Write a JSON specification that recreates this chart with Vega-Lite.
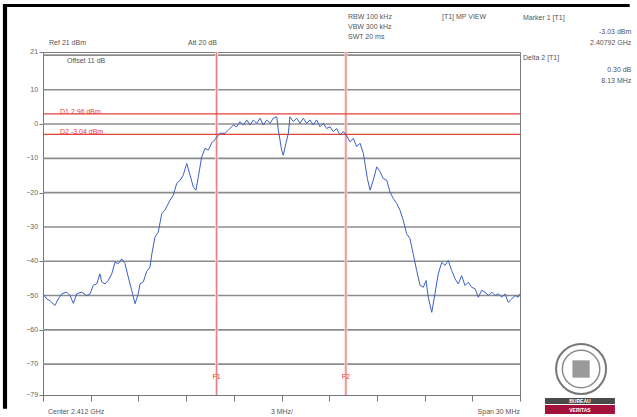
{
  "$schema": "https://vega.github.io/schema/vega-lite/v6.json",
  "width": 477,
  "height": 343,
  "autosize": {"type": "none"},
  "padding": {"left": 43, "top": 52, "right": 117, "bottom": 22},
  "background": "white",
  "config": {"view": {"stroke": "#7a7a7a", "strokeWidth": 1}, "font": "Liberation Sans"},
  "datasets": {
    "trace": [
      {"f": 2397.00, "dbm": -49.5}, {"f": 2397.23, "dbm": -51}, {"f": 2397.44, "dbm": -51.5}, {"f": 2397.75, "dbm": -52.9},
      {"f": 2397.96, "dbm": -51}, {"f": 2398.18, "dbm": -49.5}, {"f": 2398.49, "dbm": -49}, {"f": 2398.70, "dbm": -50},
      {"f": 2398.91, "dbm": -52.3}, {"f": 2399.12, "dbm": -49.5}, {"f": 2399.43, "dbm": -49}, {"f": 2399.75, "dbm": -50},
      {"f": 2399.96, "dbm": -49.5}, {"f": 2400.16, "dbm": -47}, {"f": 2400.38, "dbm": -46.6}, {"f": 2400.58, "dbm": -43.7},
      {"f": 2400.69, "dbm": -46}, {"f": 2400.90, "dbm": -46.6}, {"f": 2401.11, "dbm": -45.6}, {"f": 2401.32, "dbm": -43.7},
      {"f": 2401.53, "dbm": -40.3}, {"f": 2401.74, "dbm": -40.7}, {"f": 2401.95, "dbm": -39.3}, {"f": 2402.16, "dbm": -40.7},
      {"f": 2402.36, "dbm": -44.6}, {"f": 2402.58, "dbm": -48.5}, {"f": 2402.79, "dbm": -52.4}, {"f": 2402.99, "dbm": -49.5},
      {"f": 2403.10, "dbm": -46.6}, {"f": 2403.31, "dbm": -46}, {"f": 2403.52, "dbm": -43}, {"f": 2403.73, "dbm": -41.7},
      {"f": 2403.84, "dbm": -38}, {"f": 2404.04, "dbm": -33}, {"f": 2404.25, "dbm": -31.5}, {"f": 2404.47, "dbm": -26.1},
      {"f": 2404.67, "dbm": -25.1}, {"f": 2404.99, "dbm": -22.2}, {"f": 2405.19, "dbm": -20.8}, {"f": 2405.41, "dbm": -17.3},
      {"f": 2405.62, "dbm": -16.4}, {"f": 2405.82, "dbm": -14.9}, {"f": 2406.04, "dbm": -11.5}, {"f": 2406.25, "dbm": -14.9},
      {"f": 2406.45, "dbm": -18.3}, {"f": 2406.62, "dbm": -19.3}, {"f": 2406.77, "dbm": -15.4}, {"f": 2406.98, "dbm": -9.6},
      {"f": 2407.19, "dbm": -7.1}, {"f": 2407.40, "dbm": -7.6}, {"f": 2407.61, "dbm": -5.5}, {"f": 2407.82, "dbm": -4.5},
      {"f": 2408.13, "dbm": -2.7}, {"f": 2408.45, "dbm": -2.7}, {"f": 2408.65, "dbm": -1.8}, {"f": 2408.97, "dbm": -0.3},
      {"f": 2409.18, "dbm": -0.8}, {"f": 2409.39, "dbm": 0.7}, {"f": 2409.60, "dbm": -0.3}, {"f": 2409.81, "dbm": 1.2},
      {"f": 2410.02, "dbm": -0.3}, {"f": 2410.23, "dbm": 1.2}, {"f": 2410.44, "dbm": 0.2}, {"f": 2410.65, "dbm": 1.7},
      {"f": 2410.86, "dbm": -0.3}, {"f": 2411.07, "dbm": 1.2}, {"f": 2411.28, "dbm": 0.2}, {"f": 2411.48, "dbm": 1.7},
      {"f": 2411.70, "dbm": 2.1}, {"f": 2411.80, "dbm": -1.8}, {"f": 2412.01, "dbm": -7.6}, {"f": 2412.11, "dbm": -9.1},
      {"f": 2412.28, "dbm": -5.6}, {"f": 2412.43, "dbm": -2.7}, {"f": 2412.53, "dbm": 2.1}, {"f": 2412.74, "dbm": 0.7},
      {"f": 2412.96, "dbm": 1.7}, {"f": 2413.16, "dbm": 0.2}, {"f": 2413.37, "dbm": 1.7}, {"f": 2413.58, "dbm": 0.2},
      {"f": 2413.79, "dbm": 1.2}, {"f": 2414.00, "dbm": -0.3}, {"f": 2414.21, "dbm": 1.2}, {"f": 2414.42, "dbm": -0.8},
      {"f": 2414.63, "dbm": 0.2}, {"f": 2414.84, "dbm": -1.3}, {"f": 2415.05, "dbm": -0.8}, {"f": 2415.26, "dbm": -2.2},
      {"f": 2415.47, "dbm": -1.3}, {"f": 2415.68, "dbm": -3.2}, {"f": 2415.89, "dbm": -2.2}, {"f": 2416.10, "dbm": -3.5},
      {"f": 2416.31, "dbm": -5.2}, {"f": 2416.52, "dbm": -4.2}, {"f": 2416.73, "dbm": -6.6}, {"f": 2416.94, "dbm": -5.6},
      {"f": 2417.15, "dbm": -8.6}, {"f": 2417.25, "dbm": -11.5}, {"f": 2417.40, "dbm": -15.9}, {"f": 2417.57, "dbm": -19.3},
      {"f": 2417.77, "dbm": -16.4}, {"f": 2417.99, "dbm": -12.5}, {"f": 2418.20, "dbm": -13.9}, {"f": 2418.40, "dbm": -15.9},
      {"f": 2418.62, "dbm": -16.4}, {"f": 2418.82, "dbm": -19.8}, {"f": 2419.03, "dbm": -21.7}, {"f": 2419.25, "dbm": -23.2},
      {"f": 2419.45, "dbm": -25.1}, {"f": 2419.66, "dbm": -28.1}, {"f": 2419.87, "dbm": -32}, {"f": 2420.08, "dbm": -33.4},
      {"f": 2420.29, "dbm": -38}, {"f": 2420.50, "dbm": -42.7}, {"f": 2420.71, "dbm": -47}, {"f": 2420.92, "dbm": -47.6},
      {"f": 2421.09, "dbm": -45.6}, {"f": 2421.23, "dbm": -50.5}, {"f": 2421.45, "dbm": -54.9}, {"f": 2421.65, "dbm": -49.5},
      {"f": 2421.86, "dbm": -43.7}, {"f": 2422.08, "dbm": -40.3}, {"f": 2422.28, "dbm": -41.2}, {"f": 2422.49, "dbm": -39.8},
      {"f": 2422.70, "dbm": -42.7}, {"f": 2422.91, "dbm": -45.1}, {"f": 2423.12, "dbm": -46.6}, {"f": 2423.33, "dbm": -44.2},
      {"f": 2423.54, "dbm": -47.1}, {"f": 2423.75, "dbm": -46.1}, {"f": 2423.96, "dbm": -47.6}, {"f": 2424.17, "dbm": -48},
      {"f": 2424.38, "dbm": -50.5}, {"f": 2424.59, "dbm": -48.5}, {"f": 2424.80, "dbm": -49}, {"f": 2425.01, "dbm": -50},
      {"f": 2425.22, "dbm": -49}, {"f": 2425.43, "dbm": -50}, {"f": 2425.64, "dbm": -49.5}, {"f": 2425.85, "dbm": -50.5},
      {"f": 2426.06, "dbm": -49.5}, {"f": 2426.26, "dbm": -52}, {"f": 2426.48, "dbm": -51}, {"f": 2426.69, "dbm": -50},
      {"f": 2426.89, "dbm": -50.5}, {"f": 2427.00, "dbm": -49.5}
    ],
    "dlines": [
      {"name": "D1", "level": 2.96, "label": "D1 2.96 dBm", "lx": 2398.07},
      {"name": "D2", "level": -3.04, "label": "D2 -3.04 dBm", "lx": 2398.07}
    ],
    "flines": [
      {"name": "F1", "freq": 2407.92, "ly": -73.75},
      {"name": "F2", "freq": 2416.05, "ly": -73.75}
    ],
    "grid": [
      {"level": 20.1}, {"level": 10}, {"level": 0}, {"level": -10}, {"level": -20}, {"level": -30},
      {"level": -40}, {"level": -50}, {"level": -60}, {"level": -70}
    ],
    "ylabels": [
      {"level": 21, "lx": 2396.69}, {"level": 10, "lx": 2396.69}, {"level": 0, "lx": 2396.69}, {"level": -10, "lx": 2396.69},
      {"level": -20, "lx": 2396.69}, {"level": -30, "lx": 2396.69}, {"level": -40, "lx": 2396.69}, {"level": -50, "lx": 2396.69},
      {"level": -60, "lx": 2396.69}, {"level": -70, "lx": 2396.69}, {"level": -79, "lx": 2396.69}
    ],
    "notes": [
      {"x": 2397.38, "y": 23.62, "text": "Ref 21 dBm", "anchor": "left"},
      {"x": 2406.12, "y": 23.62, "text": "Att 20 dB", "anchor": "left"},
      {"x": 2398.51, "y": 18.38, "text": "Offset 11 dB", "anchor": "left"},
      {"x": 2416.18, "y": 31.2, "text": "RBW 100 kHz", "anchor": "left"},
      {"x": 2416.18, "y": 28.29, "text": "VBW 300 kHz", "anchor": "left"},
      {"x": 2416.18, "y": 25.37, "text": "SWT 20 ms", "anchor": "left"},
      {"x": 2422.09, "y": 31.2, "text": "[T1] MP VIEW", "anchor": "left"},
      {"x": 2427.19, "y": 30.91, "text": "Marker 1 [T1]", "anchor": "left"},
      {"x": 2434.0, "y": 26.83, "text": "-3.03 dBm", "anchor": "right"},
      {"x": 2434.0, "y": 23.62, "text": "2.40792 GHz", "anchor": "right"},
      {"x": 2427.19, "y": 19.25, "text": "Delta 2 [T1]", "anchor": "left"},
      {"x": 2434.0, "y": 15.75, "text": "0.30 dB", "anchor": "right"},
      {"x": 2434.0, "y": 12.54, "text": "8.13 MHz", "anchor": "right"},
      {"x": 2397.31, "y": -83.96, "text": "Center 2.412 GHz", "anchor": "left"},
      {"x": 2412.03, "y": -83.96, "text": "3 MHz/", "anchor": "center"},
      {"x": 2427.0, "y": -83.96, "text": "Span 30 MHz", "anchor": "right"}
    ],
    "frame": [
      {"x": 2394.48, "x2": 2433.9, "y": 35.0, "y2": 34.12},
      {"x": 2394.48, "x2": 2394.74, "y": 35.0, "y2": -83}
    ],
    "logo": [{"x": 2430.84, "y": -71.42}],
    "logobars": [
      {"x": 2428.57, "x2": 2432.97, "y": -79.87, "y2": -81.62, "part": "BUREAU", "tx": 2430.77, "ty": -80.75},
      {"x": 2428.57, "x2": 2432.97, "y": -81.92, "y2": -84.54, "part": "VERITAS", "tx": 2430.77, "ty": -83.23}
    ]
  },
  "layer": [
    {
      "data": {"name": "grid"},
      "mark": {"type": "rule", "color": "#8c8c8c", "strokeWidth": 1.6},
      "encoding": {
        "y": {"field": "level", "type": "quantitative", "scale": {"domain": [-79, 21], "nice": false, "zero": false},
          "axis": {"values": [21, 10, 0, -10, -20, -30, -40, -50, -60, -70, -79], "title": null, "grid": false, "labels": false,
            "domainColor": "#777777", "tickColor": "#777777", "tickSize": 4}}
      }
    },
    {
      "data": {"name": "flines"},
      "mark": {"type": "rule", "color": "#f8d4d4", "strokeWidth": 3},
      "encoding": {
        "x": {"field": "freq", "type": "quantitative", "scale": {"domain": [2397, 2427], "nice": false, "zero": false},
          "axis": {"values": [2397, 2400, 2403, 2406, 2409, 2412, 2415, 2418, 2421, 2424, 2427], "labels": false, "title": null,
            "grid": false, "tickSize": 6, "tickColor": "#777777", "domainColor": "#777777"}}
      }
    },
    {
      "data": {"name": "flines"},
      "mark": {"type": "rule", "color": "#e47a7a", "strokeWidth": 1},
      "encoding": {"x": {"field": "freq", "type": "quantitative"}}
    },
    {
      "data": {"name": "dlines"},
      "mark": {"type": "rule", "color": "#e5403a", "strokeWidth": 1.3},
      "encoding": {"y": {"field": "level", "type": "quantitative"}}
    },
    {
      "data": {"name": "trace"},
      "mark": {"type": "line", "color": "#3d5fc4", "strokeWidth": 1},
      "encoding": {
        "x": {"field": "f", "type": "quantitative"},
        "y": {"field": "dbm", "type": "quantitative"}
      }
    },
    {
      "data": {"name": "ylabels"},
      "mark": {"type": "text", "color": "#666666", "fontSize": 7, "align": "right", "baseline": "middle", "font": "Liberation Sans"},
      "encoding": {
        "x": {"field": "lx", "type": "quantitative"},
        "y": {"field": "level", "type": "quantitative"},
        "text": {"field": "level", "type": "quantitative"}
      }
    },
    {
      "data": {"name": "dlines"},
      "mark": {"type": "text", "color": "#e5403a", "fontSize": 7, "align": "left", "baseline": "alphabetic", "font": "Liberation Sans"},
      "encoding": {
        "x": {"field": "lx", "type": "quantitative"},
        "y": {"field": "level", "type": "quantitative"},
        "text": {"field": "label"}
      }
    },
    {
      "data": {"name": "flines"},
      "mark": {"type": "text", "color": "#e5403a", "fontSize": 7, "align": "center", "baseline": "middle", "font": "Liberation Sans"},
      "encoding": {
        "x": {"field": "freq", "type": "quantitative"},
        "y": {"field": "ly", "type": "quantitative"},
        "text": {"field": "name"}
      }
    },
    {
      "data": {"name": "notes"},
      "transform": [{"filter": "datum.anchor === 'left'"}],
      "mark": {"type": "text", "color": "#555555", "fontSize": 7, "align": "left", "baseline": "middle", "font": "Liberation Sans"},
      "encoding": {
        "x": {"field": "x", "type": "quantitative"},
        "y": {"field": "y", "type": "quantitative"},
        "text": {"field": "text"}
      }
    },
    {
      "data": {"name": "notes"},
      "transform": [{"filter": "datum.anchor === 'right'"}],
      "mark": {"type": "text", "color": "#555555", "fontSize": 7, "align": "right", "baseline": "middle", "font": "Liberation Sans"},
      "encoding": {
        "x": {"field": "x", "type": "quantitative"},
        "y": {"field": "y", "type": "quantitative"},
        "text": {"field": "text"}
      }
    },
    {
      "data": {"name": "notes"},
      "transform": [{"filter": "datum.anchor === 'center'"}],
      "mark": {"type": "text", "color": "#555555", "fontSize": 7, "align": "center", "baseline": "middle", "font": "Liberation Sans"},
      "encoding": {
        "x": {"field": "x", "type": "quantitative"},
        "y": {"field": "y", "type": "quantitative"},
        "text": {"field": "text"}
      }
    },
    {
      "data": {"name": "frame"},
      "mark": {"type": "rect", "color": "#000000"},
      "encoding": {
        "x": {"field": "x", "type": "quantitative"},
        "x2": {"field": "x2"},
        "y": {"field": "y", "type": "quantitative"},
        "y2": {"field": "y2"}
      }
    },
    {
      "data": {"name": "logo"},
      "mark": {"type": "point", "shape": "circle", "size": 2500, "filled": false, "stroke": "#777777", "strokeWidth": 2, "opacity": 1},
      "encoding": {"x": {"field": "x", "type": "quantitative"}, "y": {"field": "y", "type": "quantitative"}}
    },
    {
      "data": {"name": "logo"},
      "mark": {"type": "point", "shape": "circle", "size": 1400, "filled": false, "stroke": "#8a8a8a", "strokeWidth": 1.5, "opacity": 1},
      "encoding": {"x": {"field": "x", "type": "quantitative"}, "y": {"field": "y", "type": "quantitative"}}
    },
    {
      "data": {"name": "logo"},
      "mark": {"type": "point", "shape": "square", "size": 300, "filled": true, "color": "#9a9a9a", "opacity": 1},
      "encoding": {"x": {"field": "x", "type": "quantitative"}, "y": {"field": "y", "type": "quantitative"}}
    },
    {
      "data": {"name": "logobars"},
      "mark": {"type": "rect"},
      "encoding": {
        "x": {"field": "x", "type": "quantitative"},
        "x2": {"field": "x2"},
        "y": {"field": "y", "type": "quantitative"},
        "y2": {"field": "y2"},
        "color": {"field": "part", "type": "nominal", "scale": {"domain": ["BUREAU", "VERITAS"], "range": ["#4a4a4a", "#a3123a"]}, "legend": null}
      }
    },
    {
      "data": {"name": "logobars"},
      "mark": {"type": "text", "color": "white", "fontSize": 5, "fontWeight": "bold", "align": "center", "baseline": "middle", "font": "Liberation Sans"},
      "encoding": {
        "x": {"field": "tx", "type": "quantitative"},
        "y": {"field": "ty", "type": "quantitative"},
        "text": {"field": "part"}
      }
    }
  ]
}
